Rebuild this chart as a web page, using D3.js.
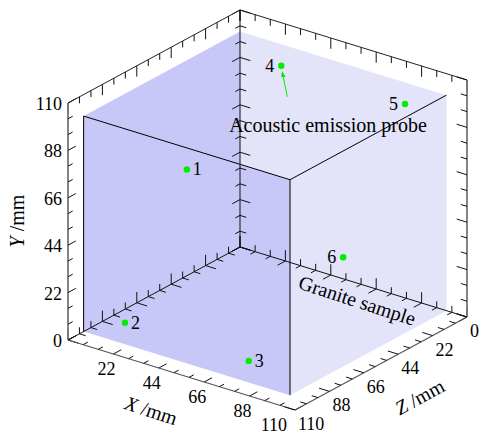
<!DOCTYPE html>
<html>
<head>
<meta charset="utf-8">
<script src="https://d3js.org/d3.v7.min.js"></script>
<style>
  body { margin: 0; background: #fff; }
  text { font-family: "Liberation Serif", "Times New Roman", serif; fill: #000; }
</style>
</head>
<body>
<div id="chart"></div>
<script>
// axis range and tick labels (mm)
var axisMax = 110;
var tickLabels = [0, 22, 44, 66, 88, 110];
var minorPerMajor = 3;

// granite sample: cube from 0 to these sizes (X, Y, Z)
var sampleX = 100, sampleY = 100, sampleZ = 100;

// acoustic emission probes
var probeIds = ["1", "2", "3", "4", "5", "6"];
var probeX = [50, 20, 80, 20, 80, 50];
var probeY = [90, 10, 10, 90, 90, 10];
var probeZ = [100, 100, 100, 0, 0, 0];

var width = 481, height = 435;

var svg = d3.select("#chart")
  .append("svg")
    .attr("width", width)
    .attr("height", height);

// oblique projection: screen position of origin and full-range axis vectors
var origin = [240, 247];
var ex = [227, 70], ez = [-172, 93], ey = 237;

var kx = d3.scaleLinear().domain([0, axisMax]).range([0, 1]);
var ky = d3.scaleLinear().domain([0, axisMax]).range([0, 1]);
var kz = d3.scaleLinear().domain([0, axisMax]).range([0, 1]);

function P(x, y, z) {
  var a = kx(x), b = ky(y), c = kz(z);
  return [origin[0] + a * ex[0] + c * ez[0], origin[1] + a * ex[1] + c * ez[1] - b * ey];
}

var line = d3.line();
function poly(pts) { return line(pts) + "Z"; }

// faces of the sample
var faceDark = "#c8c8f8", faceLight = "#e3e3fa";
var faces = [
  {pts: [P(0,0,0), P(0,0,sampleZ), P(0,sampleY,sampleZ), P(0,sampleY,0)], fill: faceDark},
  {pts: [P(0,0,0), P(sampleX,0,0), P(sampleX,sampleY,0), P(0,sampleY,0)], fill: faceLight},
  {pts: [P(0,0,sampleZ), P(sampleX,0,sampleZ), P(sampleX,sampleY,sampleZ), P(0,sampleY,sampleZ)], fill: faceDark},
  {pts: [P(sampleX,0,0), P(sampleX,0,sampleZ), P(sampleX,sampleY,sampleZ), P(sampleX,sampleY,0)], fill: faceLight}
];
svg.selectAll("path.face")
  .data(faces)
  .enter().append("path")
    .attr("class", "face")
    .attr("d", function(d) { return poly(d.pts); })
    .attr("fill", function(d) { return d.fill; })
    .attr("stroke", "none");

// tick positions along every edge
var step = (tickLabels[1] - tickLabels[0]) / minorPerMajor;
var ticks = d3.range(0, axisMax / step + 0.5).map(function(i) {
  return {v: i * step, major: i % minorPerMajor === 0};
});
var majorLen = 5, minorLen = 3;

var g = svg.append("g");

// draw an edge: fn(v) gives 3D point, dirs are unit directions for ticks
function edge(fn, dirs, color, w) {
  g.append("path")
    .attr("d", line([P.apply(null, fn(0)), P.apply(null, fn(axisMax))]))
    .attr("stroke", color)
    .attr("stroke-width", w)
    .attr("fill", "none");
  dirs.forEach(function(dir) {
    ticks.forEach(function(t) {
      var p = fn(t.v), L = t.major ? majorLen : minorLen;
      var q = [p[0] + dir[0] * L, p[1] + dir[1] * L, p[2] + dir[2] * L];
      g.append("path")
        .attr("d", line([P.apply(null, p), P.apply(null, q)]))
        .attr("stroke", "#111")
        .attr("stroke-width", 1);
    });
  });
}

// inner (back) edges with ticks into both planes
edge(function(v) { return [0, 0, v]; }, [[0,1,0],[1,0,0]], "#111", 1);
edge(function(v) { return [v, 0, 0]; }, [[0,1,0],[0,0,1]], "#111", 1);
edge(function(v) { return [0, v, 0]; }, [[1,0,0],[0,0,1]], "#111", 1);

// outer frame
edge(function(v) { return [0, axisMax, v]; }, [[0,-1,0]], "#222", 1);
edge(function(v) { return [v, axisMax, 0]; }, [[0,-1,0]], "#222", 1);
edge(function(v) { return [v, 0, axisMax]; }, [[0,0,-1]], "#555", 1.2);
edge(function(v) { return [axisMax, 0, v]; }, [[-1,0,0]], "#555", 1.2);
edge(function(v) { return [0, v, axisMax]; }, [[0,0,-1]], "#777", 1.8);
edge(function(v) { return [axisMax, v, 0]; }, [[-1,0,0]], "#777", 1.8);

// visible sample edges
var cubeEdges = [
  [P(0,sampleY,sampleZ), P(sampleX,sampleY,sampleZ)],
  [P(sampleX,sampleY,sampleZ), P(sampleX,sampleY,0)],
  [P(sampleX,sampleY,sampleZ), P(sampleX,0,sampleZ)],
  [P(0,sampleY,sampleZ), P(0,0,sampleZ)]
];
svg.selectAll("path.cube")
  .data(cubeEdges)
  .enter().append("path")
    .attr("class", "cube")
    .attr("d", function(d) { return line(d); })
    .attr("stroke", "#000")
    .attr("stroke-width", 1);

// tick labels
var fs = 18, fsBig = 20;
tickLabels.forEach(function(v) {
  var p = P(0, v, axisMax);
  svg.append("text").attr("x", p[0] - 6).attr("y", p[1] + 7)
    .attr("text-anchor", "end").attr("font-size", fs).text(v);
});
tickLabels.slice(1).forEach(function(v) {
  var p = P(v, 0, axisMax);
  svg.append("text").attr("x", p[0] + (v === axisMax ? -8 : 2)).attr("y", p[1] + 21)
    .attr("text-anchor", "end").attr("font-size", fs).text(v);
});
tickLabels.forEach(function(v) {
  var p = P(axisMax, 0, v);
  svg.append("text").attr("x", p[0] + 3).attr("y", p[1] + 20)
    .attr("text-anchor", "start").attr("font-size", fs).text(v);
});

// axis titles
function title(x, y, angle, letter) {
  var t = svg.append("text")
    .attr("transform", "translate(" + x + "," + y + ") rotate(" + angle + ")")
    .attr("text-anchor", "middle")
    .attr("font-size", fsBig);
  t.append("tspan").attr("font-style", "italic").text(letter);
  t.append("tspan").text(" /mm");
}
title(24, 221, -90, "Y");
title(149, 417, 18, "X");
title(423, 403, -28.4, "Z");

// probes
var probes = probeIds.map(function(id, i) {
  return {id: id, p: P(probeX[i], probeY[i], probeZ[i]), back: probeZ[i] === 0};
});
svg.selectAll("circle.probe")
  .data(probes)
  .enter().append("circle")
    .attr("class", "probe")
    .attr("cx", function(d) { return d.p[0]; })
    .attr("cy", function(d) { return d.p[1]; })
    .attr("r", 3.2)
    .attr("fill", "#00ee00");
svg.selectAll("text.plabel")
  .data(probes)
  .enter().append("text")
    .attr("class", "plabel")
    .attr("x", function(d) { return d.back ? d.p[0] - 7 : d.p[0] + 6; })
    .attr("y", function(d) { return d.p[1] + 6; })
    .attr("text-anchor", function(d) { return d.back ? "end" : "start"; })
    .attr("font-size", fs)
    .text(function(d) { return d.id; });

// annotation arrow to probe 4
svg.append("defs").append("marker")
    .attr("id", "ah")
    .attr("viewBox", "0 0 10 10")
    .attr("refX", 9).attr("refY", 5)
    .attr("markerWidth", 6).attr("markerHeight", 6)
    .attr("orient", "auto")
  .append("path")
    .attr("d", "M0,1L10,5L0,9Z")
    .attr("fill", "#00ee00");
var p4 = probes[3].p;
svg.append("path")
  .attr("d", line([[p4[0] + 6, p4[1] + 31], [p4[0] + 1, p4[1] + 6]]))
  .attr("stroke", "#00ee00")
  .attr("stroke-width", 1)
  .attr("marker-end", "url(#ah)");

svg.append("text")
  .attr("x", 328).attr("y", 132)
  .attr("text-anchor", "middle")
  .attr("font-size", fsBig)
  .text("Acoustic emission probe");

svg.append("text")
  .attr("transform", "translate(355,307) rotate(18)")
  .attr("text-anchor", "middle")
  .attr("font-size", fsBig)
  .text("Granite sample");
</script>
</body>
</html>
